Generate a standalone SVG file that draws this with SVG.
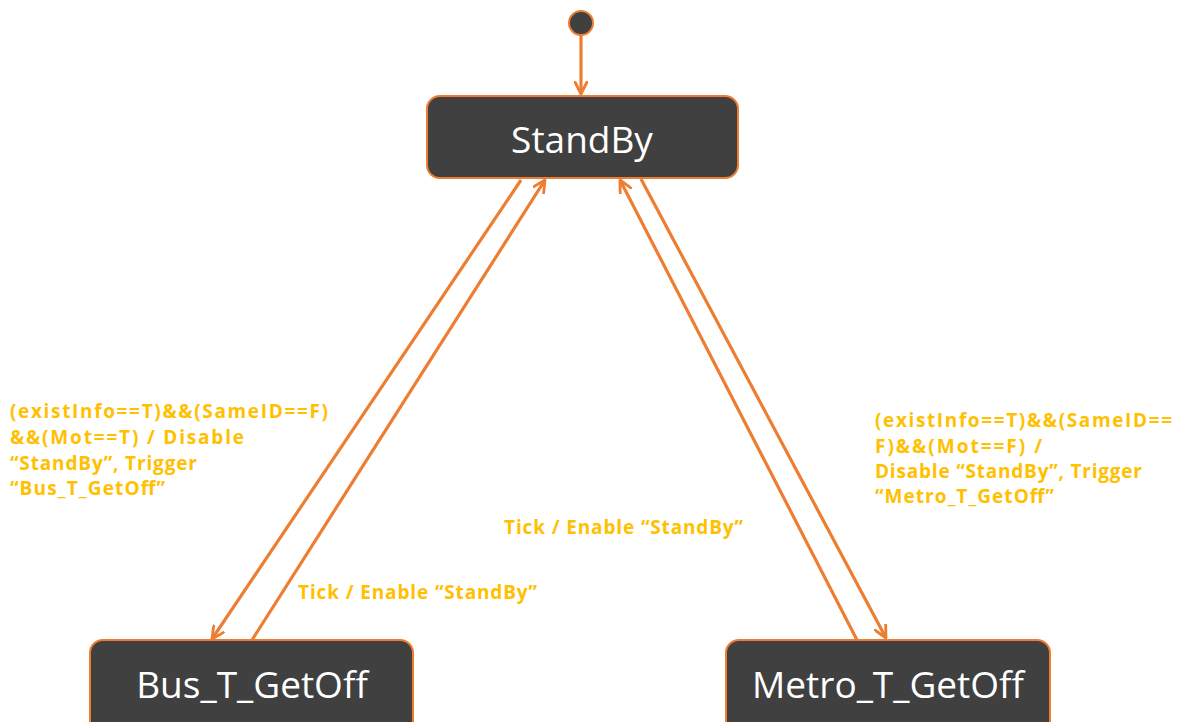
<svg xmlns="http://www.w3.org/2000/svg" width="1181" height="722" viewBox="0 0 1181 722">
<style>
.state{fill:#404040;stroke:#ED7D31;stroke-width:2}
.stxt{font-family:"Open Sans","Noto Sans","DejaVu Sans",sans-serif;font-size:37px;fill:#FFFFFF;text-anchor:middle}
.edge{stroke:#ED7D31;stroke-width:3.2;fill:none;marker-end:url(#arr)}
.lbl{font-family:"Open Sans","Noto Sans","DejaVu Sans",sans-serif;font-size:19px;font-weight:bold;fill:#FFC000}
</style>
<defs>
<marker id="arr" viewBox="0 0 14 14" refX="13" refY="7" markerWidth="14" markerHeight="14" markerUnits="userSpaceOnUse" orient="auto">
<path d="M1,1 L13,7 L1,13" fill="none" stroke="#ED7D31" stroke-width="2.8" stroke-linecap="round" stroke-linejoin="round"/>
</marker>
</defs>
<rect width="1181" height="722" fill="#FFFFFF"/>
<g id="connectors">
<line class="edge" x1="581" y1="35" x2="581" y2="94"/>
<line class="edge" x1="521" y1="180" x2="212" y2="639"/>
<line class="edge" x1="252" y1="640" x2="545" y2="180"/>
<line class="edge" x1="857" y1="640" x2="620" y2="180"/>
<line class="edge" x1="641" y1="179" x2="886" y2="638"/>
</g>
<g id="initial">
<circle cx="581" cy="23" r="12" fill="#404040" stroke="#ED7D31" stroke-width="2"/>
</g>
<g id="StandBy">
<rect class="state" x="427" y="96" width="311" height="82" rx="13"/>
<text class="stxt" x="582" y="153">StandBy</text>
</g>
<g id="Bus_T_GetOff">
<rect class="state" x="90" y="640" width="323" height="100" rx="13"/>
<text class="stxt" x="252" y="698">Bus_T_GetOff</text>
</g>
<g id="Metro_T_GetOff">
<rect class="state" x="726" y="640" width="324" height="100" rx="13"/>
<text class="stxt" x="888" y="698">Metro_T_GetOff</text>
</g>
<g id="labels">
<text class="lbl" x="10" y="418" textLength="318" lengthAdjust="spacing">(existInfo==T)&amp;&amp;(SameID==F)</text>
<text class="lbl" x="10" y="444" textLength="234" lengthAdjust="spacing">&amp;&amp;(Mot==T) / Disable</text>
<text class="lbl" x="10" y="470" textLength="187" lengthAdjust="spacing">“StandBy”, Trigger</text>
<text class="lbl" x="10" y="495" textLength="155" lengthAdjust="spacing">“Bus_T_GetOff”</text>
<text class="lbl" x="875" y="427" textLength="297" lengthAdjust="spacing">(existInfo==T)&amp;&amp;(SameID==</text>
<text class="lbl" x="875" y="453" textLength="167" lengthAdjust="spacing">F)&amp;&amp;(Mot==F) /</text>
<text class="lbl" x="875" y="478" textLength="267" lengthAdjust="spacing">Disable “StandBy”, Trigger</text>
<text class="lbl" x="875" y="503" textLength="179" lengthAdjust="spacing">“Metro_T_GetOff”</text>
<text class="lbl" x="504" y="534" textLength="239" lengthAdjust="spacing">Tick / Enable “StandBy”</text>
<text class="lbl" x="298" y="599" textLength="239" lengthAdjust="spacing">Tick / Enable “StandBy”</text>
</g>
</svg>
